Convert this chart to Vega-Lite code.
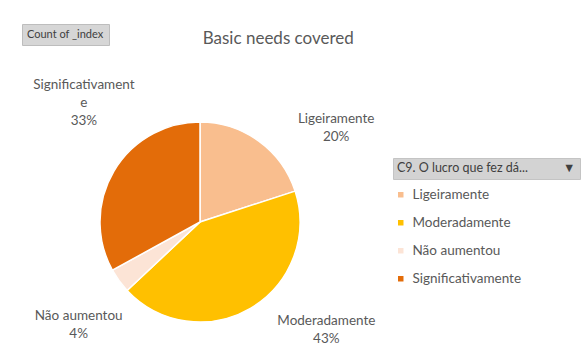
{
  "$schema": "https://vega.github.io/schema/vega-lite/v6.json",
  "width": 380,
  "height": 260,
  "padding": {"left": 10, "top": 23, "right": 5, "bottom": 2},
  "background": "white",
  "title": {
    "text": "Basic needs covered",
    "font": "Lato",
    "fontSize": 17,
    "fontWeight": "normal",
    "color": "#595959",
    "anchor": "middle",
    "frame": "bounds",
    "dx": -17,
    "offset": -24
  },
  "data": {
    "values": [
      {"cat": "Ligeiramente", "count": 20},
      {"cat": "Moderadamente", "count": 43},
      {"cat": "Não aumentou", "count": 4},
      {"cat": "Significativamente", "count": 33}
    ]
  },
  "transform": [
    {"joinaggregate": [{"op": "sum", "field": "count", "as": "total"}]},
    {"calculate": "format(datum.count / datum.total, '.0%')", "as": "pct"},
    {"calculate": "datum.cat === 'Significativamente' ? ['Significativament', 'e', datum.pct] : [datum.cat, datum.pct]", "as": "label"}
  ],
  "layer": [
    {
      "mark": {"type": "arc", "outerRadius": 100, "stroke": "white", "strokeWidth": 1.5},
      "encoding": {
        "theta": {"field": "count", "type": "quantitative", "stack": true},
        "color": {
          "field": "cat",
          "type": "nominal",
          "scale": {
            "domain": ["Ligeiramente", "Moderadamente", "Não aumentou", "Significativamente"],
            "range": ["#F9BE8E", "#FFC000", "#FCE4D6", "#E36C09"]
          },
          "legend": {
            "title": null,
            "orient": "none",
            "legendX": 384,
            "legendY": 96,
            "symbolType": "square",
            "symbolSize": 30,
            "symbolStrokeWidth": 0,
            "labelFont": "Lato",
            "labelFontSize": 13.5,
            "labelColor": "#595959",
            "labelOffset": 5,
            "rowPadding": 13
          }
        }
      }
    },
    {
      "mark": {"type": "point", "opacity": 0},
      "encoding": {
        "shape": {
          "field": "count",
          "type": "nominal",
          "legend": {
            "title": "Count of _index",
            "values": [],
            "orient": "none",
            "legendX": 12,
            "legendY": -68,
            "titleFont": "Lato",
            "titleFontSize": 11,
            "titleFontWeight": "normal",
            "titleColor": "#404040",
            "fillColor": "#d6d6d6",
            "strokeColor": "#bdbdbd",
            "padding": 5
          }
        },
        "strokeDash": {
          "field": "pct",
          "type": "nominal",
          "legend": {
            "title": "C9. O lucro que fez dá...\u00a0\u00a0\u00a0\u00a0\u00a0\u00a0\u00a0\u00a0\u00a0\u00a0\u00a0▼",
            "values": [],
            "orient": "none",
            "legendX": 383,
            "legendY": 66,
            "titleFont": "Lato",
            "titleFontSize": 12.5,
            "titleFontWeight": "normal",
            "titleColor": "#404040",
            "fillColor": "#d3d3d3",
            "strokeColor": "#c4c4c4",
            "padding": 4,
            "titleLimit": 300
          }
        }
      }
    },
    {
      "mark": {"type": "text", "radius": 150, "dx": 48, "dy": 18, "font": "Lato", "fontSize": 13.5, "fill": "#595959", "lineHeight": 18, "align": "center", "baseline": "middle"},
      "encoding": {
        "theta": {"field": "count", "type": "quantitative", "stack": true},
        "text": {"condition": {"test": "datum.cat === 'Ligeiramente'", "field": "label", "type": "nominal"}, "value": ""}
      }
    },
    {
      "mark": {"type": "text", "radius": 150, "dx": 50, "dy": -30, "font": "Lato", "fontSize": 13.5, "fill": "#595959", "lineHeight": 18, "align": "center", "baseline": "middle"},
      "encoding": {
        "theta": {"field": "count", "type": "quantitative", "stack": true},
        "text": {"condition": {"test": "datum.cat === 'Moderadamente'", "field": "label", "type": "nominal"}, "value": ""}
      }
    },
    {
      "mark": {"type": "text", "radius": 150, "dx": 0, "dy": 6, "font": "Lato", "fontSize": 13.5, "fill": "#595959", "lineHeight": 18, "align": "center", "baseline": "middle"},
      "encoding": {
        "theta": {"field": "count", "type": "quantitative", "stack": true},
        "text": {"condition": {"test": "datum.cat === 'Não aumentou'", "field": "label", "type": "nominal"}, "value": ""}
      }
    },
    {
      "mark": {"type": "text", "radius": 150, "dx": 13, "dy": -61, "font": "Lato", "fontSize": 13.5, "fill": "#595959", "lineHeight": 18, "align": "center", "baseline": "middle"},
      "encoding": {
        "theta": {"field": "count", "type": "quantitative", "stack": true},
        "text": {"condition": {"test": "datum.cat === 'Significativamente'", "field": "label", "type": "nominal"}, "value": ""}
      }
    }
  ],
  "config": {"view": {"stroke": null}}
}
